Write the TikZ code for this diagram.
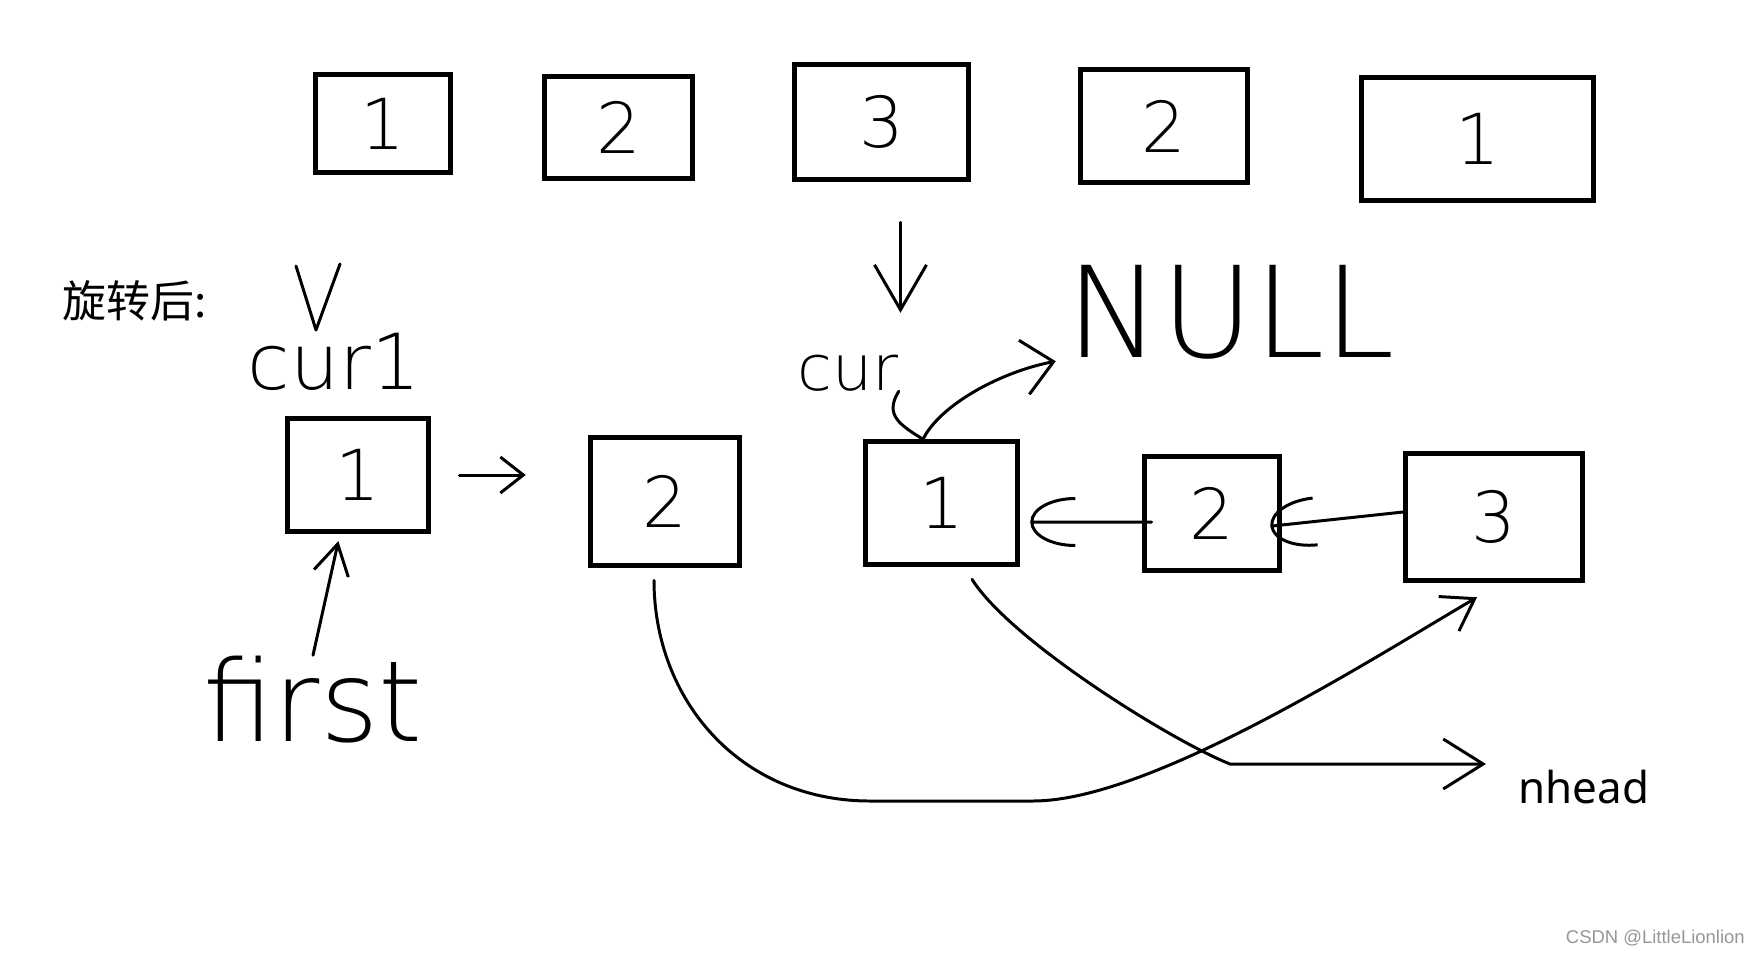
\documentclass[tikz,border=0pt]{standalone}
\usepackage{fontspec}
\setmainfont{Noto Sans}
\newfontfamily\handfont{DejaVu Sans ExtraLight}
\newfontfamily\cjkfont{Noto Sans CJK SC}
\newfontfamily\markfont{Liberation Sans}
\usepackage{tikz}
\usetikzlibrary{arrows.meta}
\definecolor{wmgray}{RGB}{150,150,150}

\begin{document}
\begin{tikzpicture}[x=0.02cm,y=-0.02cm,
  cell/.style={draw,line width=2.6pt,inner sep=0pt,
               font=\handfont\fontsize{40}{40}\selectfont},
  hand/.style={inner sep=0pt,font=\handfont\fontsize{#1}{#1}\selectfont},
  pen/.style={line width=1.7pt,line cap=round,line join=round},
  arr/.style={pen,-{Straight Barb[length=0.46cm,width=0.72cm]}},
  bigarr/.style={pen,-{Straight Barb[length=0.9cm,width=1.04cm]}},
  carr/.style={pen,-{Arc Barb[length=0.9cm,width=1.0cm]}},
]
\useasboundingbox (0,0) rectangle (1761,954);

%% ── original list ───────────────────────────────────────────────
\node[cell,minimum width=2.70cm,minimum height=1.96cm] (O1) at (383,123.5) {1};
\node[cell,minimum width=2.96cm,minimum height=2.04cm] (O2) at (618.5,127.5) {2};
\node[cell,minimum width=3.48cm,minimum height=2.30cm] (O3) at (881.5,122) {3};
\node[cell,minimum width=3.34cm,minimum height=2.26cm] (O4) at (1164,126) {2};
\node[cell,minimum width=4.64cm,minimum height=2.46cm] (O5) at (1477.5,139) {1};

\draw[bigarr,shorten <=0.81cm] ([xshift=0.38cm]O3.south) -- ++(0,131);

%% ── after rotation ──────────────────────────────────────────────
\node[font=\cjkfont\fontsize{25}{25}\selectfont,anchor=west,inner sep=0pt] (rot) at (62,301) {旋转后:};

\node[cell,minimum width=2.82cm,minimum height=2.26cm] (R1) at (358,475) {1};
\node[cell,minimum width=2.98cm,minimum height=2.56cm] (R2) at (665,501.5) {2};
\node[cell,minimum width=3.04cm,minimum height=2.46cm] (R3) at (941.5,503) {1};
\node[cell,minimum width=2.70cm,minimum height=2.28cm] (R4) at (1212,513.5) {2};
\node[cell,minimum width=3.54cm,minimum height=2.54cm] (R5) at (1494,517) {3};

\node[hand=44,anchor=base] (cur1) at (334,389) {cur1};
\node[hand=36,anchor=base] (cur) at (848,390) {cur};
\node[hand=72,anchor=base] (null) at (1231,357) {NULL};
\node[hand=64,anchor=base] (first) at (313,741) {first};
\node[font=\fontsize{25}{25}\selectfont,anchor=base west,inner sep=0pt] (nhead) at (1518,803) {nhead};
\coordinate (bend) at (1230,764);

\draw[pen] (296,266) -- (316,330) -- (340,264);
\draw[arr,shorten <=0.57cm,shorten >=1.25cm] (R1.east) -- (R1.east -| R2.west);
\draw[arr,-{Straight Barb[length=0.6cm,width=0.7cm]},shorten >=0.15cm] (first.north) -- ([xshift=-0.36cm]R1.south);

\draw[pen] (cur.south east) .. controls (884,415) and (900,425) .. ([xshift=-0.37cm]R3.north);
\draw[arr,-{Straight Barb[length=0.6cm,width=1.1cm]},shorten >=0.22cm]
  ([xshift=-0.37cm]R3.north) .. controls (940,405) and (1000,372) .. (null.south west);

\draw[carr,shorten <=-0.19cm,shorten >=0.21cm] ([yshift=-0.17cm]R4.west) -- ([yshift=-0.38cm]R3.east);
\draw[carr,shorten >=-0.23cm] ([yshift=0.1cm]R5.west) -- ([yshift=-0.23cm]R4.east);

%% ── long links ──────────────────────────────────────────────────
\draw[arr,-{Straight Barb[length=0.6cm,width=0.8cm]}]
  ([xshift=-0.22cm,yshift=-0.25cm]R2.south) .. controls (654,700) and (740,801) .. (870,801)
  -- (1033,801) .. controls (1150,801) and (1370,660) .. ([xshift=-0.34cm,yshift=-0.29cm]R5.south);
\draw[arr,-{Straight Barb[length=0.8cm,width=1.0cm]},shorten >=0.64cm]
  ([xshift=0.61cm,yshift=-0.25cm]R3.south) .. controls (1010,640) and (1170,740) .. (bend)
  -- (nhead.west |- bend);

\node[font=\markfont\fontsize{10.5}{10.5}\selectfont,text=wmgray,anchor=base east,inner sep=0pt] (wm) at (1745,943) {CSDN @LittleLionlion};
\end{tikzpicture}
\end{document}
